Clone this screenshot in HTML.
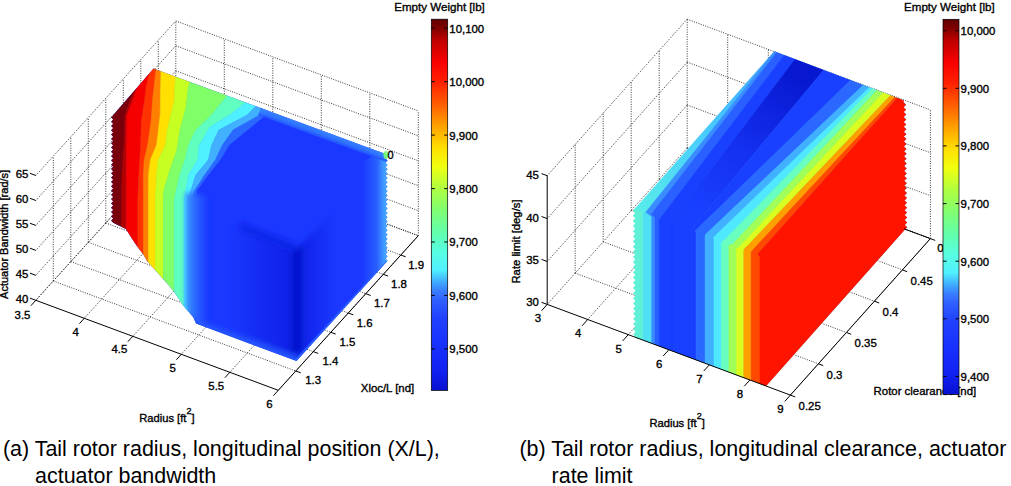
<!DOCTYPE html>
<html><head><meta charset="utf-8"><style>
html,body{margin:0;padding:0;background:#fff;width:1011px;height:486px;overflow:hidden;position:relative}
svg{position:absolute;left:0;top:0}
svg text{font-family:"Liberation Sans",sans-serif;fill:#000;stroke:#000;stroke-width:0.35px}
.g{stroke:#222;stroke-width:0.9;stroke-dasharray:1 1.4;fill:none}
.a{stroke:#000;stroke-width:1;fill:none}
.cap{position:absolute;font-family:"Liberation Sans",sans-serif;font-size:21.45px;line-height:26.5px;color:#000;white-space:nowrap}
.ind{padding-left:32.2px}
</style></head><body>
<svg width="1011" height="486" viewBox="0 0 1011 486">
<defs><filter id="b1" x="-10%" y="-10%" width="120%" height="120%"><feGaussianBlur stdDeviation="0.7"/></filter><filter id="b3" x="-20%" y="-20%" width="140%" height="140%"><feGaussianBlur stdDeviation="2.5"/></filter><linearGradient id="g1" gradientUnits="userSpaceOnUse" x1="185.0" y1="0.0" x2="208.0" y2="0.0"><stop offset="0.000" stop-color="#40a8ff"/><stop offset="0.350" stop-color="#2e70ff"/><stop offset="1.000" stop-color="#1a38ff"/></linearGradient><linearGradient id="g2" gradientUnits="userSpaceOnUse" x1="225.0" y1="0.0" x2="297.0" y2="0.0"><stop offset="0" stop-color="#0010c8" stop-opacity="0"/><stop offset="1" stop-color="#0010c8" stop-opacity="0.45"/></linearGradient><linearGradient id="g3" gradientUnits="userSpaceOnUse" x1="297.0" y1="0.0" x2="335.0" y2="0.0"><stop offset="0" stop-color="#0010c8" stop-opacity="0.45"/><stop offset="1" stop-color="#0010c8" stop-opacity="0"/></linearGradient><linearGradient id="g4" gradientUnits="userSpaceOnUse" x1="362.0" y1="0.0" x2="387.0" y2="0.0"><stop offset="0.000" stop-color="#1a38ff"/><stop offset="0.600" stop-color="#2a60ff"/><stop offset="0.820" stop-color="#3a90ff"/><stop offset="1.000" stop-color="#48b0ff"/></linearGradient><linearGradient id="g5" gradientUnits="userSpaceOnUse" x1="300.0" y1="122.0" x2="296.6" y2="131.4"><stop offset="0.000" stop-color="#3a8cff"/><stop offset="0.450" stop-color="#3078ff"/><stop offset="1.000" stop-color="#1a38ff"/></linearGradient><linearGradient id="g6" gradientUnits="userSpaceOnUse" x1="774.0" y1="51.0" x2="634.0" y2="208.0"><stop offset="0.000" stop-color="#40a0ff"/><stop offset="0.450" stop-color="#48c8ff"/><stop offset="1.000" stop-color="#58ecea"/></linearGradient><linearGradient id="g7" gradientUnits="userSpaceOnUse" x1="790.0" y1="70.0" x2="700.0" y2="215.0"><stop offset="0.000" stop-color="#0818d0"/><stop offset="0.550" stop-color="#1430f0"/><stop offset="1.000" stop-color="#1a40ff"/></linearGradient><linearGradient id="jetv" x1="0" y1="0" x2="0" y2="1"><stop offset="0.000" stop-color="#600000"/><stop offset="0.024" stop-color="#800000"/><stop offset="0.058" stop-color="#c00000"/><stop offset="0.114" stop-color="#f80000"/><stop offset="0.169" stop-color="#ff2000"/><stop offset="0.231" stop-color="#ff6000"/><stop offset="0.287" stop-color="#ffa000"/><stop offset="0.325" stop-color="#ffc800"/><stop offset="0.347" stop-color="#ffe000"/><stop offset="0.397" stop-color="#f0ff10"/><stop offset="0.455" stop-color="#b0ff40"/><stop offset="0.513" stop-color="#80ff70"/><stop offset="0.578" stop-color="#60ffb0"/><stop offset="0.625" stop-color="#58ffe0"/><stop offset="0.676" stop-color="#50f0ff"/><stop offset="0.705" stop-color="#40b0ff"/><stop offset="0.730" stop-color="#3880ff"/><stop offset="0.756" stop-color="#3060ff"/><stop offset="0.806" stop-color="#2040ff"/><stop offset="0.878" stop-color="#1830ff"/><stop offset="0.950" stop-color="#1020f0"/><stop offset="1.000" stop-color="#0810d0"/></linearGradient></defs>
<line x1="35.8" y1="300.3" x2="175.8" y2="145.7" class="g"/><line x1="84.3" y1="318.3" x2="224.3" y2="163.7" class="g"/><line x1="132.8" y1="336.3" x2="272.8" y2="181.7" class="g"/><line x1="181.3" y1="354.3" x2="321.3" y2="199.7" class="g"/><line x1="229.8" y1="372.3" x2="369.8" y2="217.7" class="g"/><line x1="278.3" y1="390.3" x2="418.3" y2="235.7" class="g"/><line x1="53.3" y1="281.0" x2="295.8" y2="371.0" class="g"/><line x1="70.8" y1="261.6" x2="313.3" y2="351.6" class="g"/><line x1="88.3" y1="242.3" x2="330.8" y2="332.3" class="g"/><line x1="105.8" y1="223.0" x2="348.3" y2="313.0" class="g"/><line x1="123.3" y1="203.7" x2="365.8" y2="293.7" class="g"/><line x1="140.8" y1="184.3" x2="383.3" y2="274.3" class="g"/><line x1="158.3" y1="165.0" x2="400.8" y2="255.0" class="g"/><line x1="175.8" y1="145.7" x2="418.3" y2="235.7" class="g"/><line x1="35.8" y1="300.3" x2="175.8" y2="145.7" class="g"/><line x1="35.8" y1="275.3" x2="175.8" y2="120.7" class="g"/><line x1="35.8" y1="250.4" x2="175.8" y2="95.7" class="g"/><line x1="35.8" y1="225.4" x2="175.8" y2="70.8" class="g"/><line x1="35.8" y1="200.5" x2="175.8" y2="45.8" class="g"/><line x1="35.8" y1="175.5" x2="175.8" y2="20.9" class="g"/><line x1="53.3" y1="281.0" x2="53.3" y2="156.2" class="g"/><line x1="70.8" y1="261.6" x2="70.8" y2="136.8" class="g"/><line x1="88.3" y1="242.3" x2="88.3" y2="117.5" class="g"/><line x1="105.8" y1="223.0" x2="105.8" y2="98.2" class="g"/><line x1="123.3" y1="203.7" x2="123.3" y2="78.9" class="g"/><line x1="140.8" y1="184.3" x2="140.8" y2="59.5" class="g"/><line x1="158.3" y1="165.0" x2="158.3" y2="40.2" class="g"/><line x1="175.8" y1="145.7" x2="175.8" y2="20.9" class="g"/><line x1="175.8" y1="145.7" x2="418.3" y2="235.7" class="g"/><line x1="175.8" y1="120.7" x2="418.3" y2="210.7" class="g"/><line x1="175.8" y1="95.7" x2="418.3" y2="185.7" class="g"/><line x1="175.8" y1="70.8" x2="418.3" y2="160.8" class="g"/><line x1="175.8" y1="45.8" x2="418.3" y2="135.8" class="g"/><line x1="175.8" y1="20.9" x2="418.3" y2="110.9" class="g"/><line x1="224.3" y1="163.7" x2="224.3" y2="38.9" class="g"/><line x1="272.8" y1="181.7" x2="272.8" y2="56.9" class="g"/><line x1="321.3" y1="199.7" x2="321.3" y2="74.9" class="g"/><line x1="369.8" y1="217.7" x2="369.8" y2="92.9" class="g"/><line x1="418.3" y1="235.7" x2="418.3" y2="110.9" class="g"/><clipPath id="cl"><polygon points="153.5,68.5 385.5,154.0 387.5,156.2 385.5,158.4 387.5,160.5 385.5,162.7 387.5,164.9 385.5,167.1 387.5,169.3 385.5,171.4 387.5,173.6 385.5,175.8 387.5,178.0 385.5,180.2 387.5,182.3 385.5,184.5 387.5,186.7 385.5,188.9 387.5,191.1 385.5,193.2 387.5,195.4 385.5,197.6 387.5,199.8 385.5,202.0 387.5,204.1 385.5,206.3 387.5,208.5 385.5,210.7 387.5,212.9 385.5,215.0 387.5,217.2 385.5,219.4 387.5,221.6 385.5,223.8 387.5,225.9 385.5,228.1 387.5,230.3 385.5,232.5 387.5,234.7 385.5,236.8 387.5,239.0 385.5,241.2 387.5,243.4 385.5,245.6 387.5,247.7 385.5,249.9 387.5,252.1 385.5,254.3 387.5,256.5 385.5,258.6 387.5,260.8 385.5,263.0 296.5,361.0 196.0,323.5 193.2,317.0 183.3,305.8 173.5,291.0 166.0,282.3 155.0,270.0 147.0,261.0 143.2,254.3 138.3,248.1 133.3,240.7 125.9,229.0 113.2,222.8 111.1,220.6 113.2,218.5 111.1,216.3 113.2,214.2 111.1,212.0 113.2,209.9 111.1,207.7 113.2,205.6 111.1,203.4 113.2,201.3 111.1,199.1 113.2,197.0 111.1,194.8 113.2,192.7 111.1,190.5 113.2,188.4 111.1,186.2 113.2,184.1 111.1,181.9 113.2,179.8 111.1,177.6 113.2,175.5 111.1,173.3 113.2,171.2 111.1,169.0 113.2,166.8 111.1,164.7 113.2,162.5 111.1,160.4 113.2,158.2 111.1,156.1 113.2,153.9 111.1,151.8 113.2,149.6 111.1,147.5 113.2,145.3 111.1,143.2 113.2,141.0 111.1,138.9 113.2,136.7 111.1,134.6 113.2,132.4 111.1,130.3 113.2,128.1 111.1,126.0 113.2,123.8 111.1,121.7 113.2,119.5 111.1,117.4 113.2,115.2"/></clipPath><g clip-path="url(#cl)"><rect x="100" y="60" width="300" height="310" fill="#1a38ff"/><g filter="url(#b1)"><polygon points="132.0,38.0 120.0,70.0 105.0,110.0 105.0,200.0 105.0,430.0 121.5,430.0 121.5,200.0 122.0,175.0 124.0,145.0 125.0,115.0 130.3,100.0 133.0,94.0 135.2,89.2" fill="#780008" stroke="#780008" stroke-width="0.6"/><polygon points="135.2,89.2 133.0,94.0 130.3,100.0 125.0,115.0 124.0,145.0 122.0,175.0 121.5,200.0 121.5,430.0 126.3,430.0 126.3,200.0 126.3,175.0 126.5,145.0 127.0,115.0 133.0,100.0 136.0,91.0 138.4,83.8" fill="#b00000" stroke="#b00000" stroke-width="0.6"/><polygon points="138.4,83.8 136.0,91.0 133.0,100.0 127.0,115.0 126.5,145.0 126.3,175.0 126.3,200.0 126.3,430.0 137.8,430.0 137.8,200.0 139.2,170.0 140.6,145.0 141.5,120.0 144.6,100.0 146.3,86.0 150.0,71.6 153.0,60.1" fill="#f40000" stroke="#f40000" stroke-width="0.6"/><polygon points="153.0,60.1 150.0,71.6 146.3,86.0 144.6,100.0 141.5,120.0 140.6,145.0 139.2,170.0 137.8,200.0 137.8,430.0 143.5,430.0 143.5,200.0 143.5,175.0 144.2,160.0 147.7,145.0 151.3,120.0 152.5,100.0 154.2,86.0 156.0,69.4 157.4,56.1" fill="#ff3000" stroke="#ff3000" stroke-width="0.6"/><polygon points="157.4,56.1 156.0,69.4 154.2,86.0 152.5,100.0 151.3,120.0 147.7,145.0 144.2,160.0 143.5,175.0 143.5,200.0 143.5,430.0 148.5,430.0 148.5,200.0 148.6,175.0 150.4,160.0 156.6,145.0 158.4,130.0 160.2,115.0 160.4,100.0 160.6,86.0 161.0,71.2 161.3,59.4" fill="#ff8000" stroke="#ff8000" stroke-width="0.6"/><polygon points="161.3,59.4 161.0,71.2 160.6,86.0 160.4,100.0 160.2,115.0 158.4,130.0 156.6,145.0 150.4,160.0 148.6,175.0 148.5,200.0 148.5,430.0 155.4,430.0 155.4,200.0 156.6,175.0 158.4,160.0 165.5,145.0 167.3,130.0 170.9,115.0 174.6,100.0 174.8,86.0 176.0,76.7 177.0,69.3" fill="#ffe000" stroke="#ffe000" stroke-width="0.6"/><polygon points="177.0,69.3 176.0,76.7 174.8,86.0 174.6,100.0 170.9,115.0 167.3,130.0 165.5,145.0 158.4,160.0 156.6,175.0 155.4,200.0 155.4,430.0 163.4,430.0 163.4,200.0 164.0,190.0 170.0,170.0 177.0,150.0 180.0,130.0 186.0,108.0 188.0,90.0 190.0,81.8 191.6,75.2" fill="#c8ff20" stroke="#c8ff20" stroke-width="0.6"/><polygon points="191.6,75.2 190.0,81.8 188.0,90.0 186.0,108.0 180.0,130.0 177.0,150.0 170.0,170.0 164.0,190.0 163.4,200.0 163.4,430.0 174.2,430.0 174.2,200.0 179.8,175.0 185.0,160.0 188.7,145.0 196.0,130.0 211.8,115.0 223.7,100.0 227.6,95.6 230.7,92.1" fill="#80ff68" stroke="#80ff68" stroke-width="0.6"/><polygon points="230.7,92.1 227.6,95.6 223.7,100.0 211.8,115.0 196.0,130.0 188.7,145.0 185.0,160.0 179.8,175.0 174.2,200.0 174.2,430.0 184.1,430.0 184.1,200.0 188.7,175.0 197.6,160.0 199.4,145.0 210.0,127.0 229.6,115.0 246.0,102.2 259.1,92.0" fill="#60ffc0" stroke="#60ffc0" stroke-width="0.6"/><polygon points="259.1,92.0 246.0,102.2 229.6,115.0 210.0,127.0 199.4,145.0 197.6,160.0 188.7,175.0 184.1,200.0 184.1,430.0 188.0,430.0 188.0,200.0 195.8,175.0 208.3,160.0 211.8,145.0 218.9,130.0 247.4,115.0 256.0,106.0 262.9,98.8" fill="#50f0ff" stroke="#50f0ff" stroke-width="0.6"/><polygon points="262.9,98.8 256.0,106.0 247.4,115.0 218.9,130.0 211.8,145.0 208.3,160.0 195.8,175.0 188.0,200.0 188.0,430.0 191.0,430.0 191.0,200.0 195.0,190.0 204.7,175.0 215.4,160.0 222.5,145.0 233.2,130.0 259.9,115.0 261.0,107.8 261.9,102.0" fill="#40b0ff" stroke="#40b0ff" stroke-width="0.6"/><polygon points="261.9,102.0 261.0,107.8 259.9,115.0 233.2,130.0 222.5,145.0 215.4,160.0 204.7,175.0 195.0,190.0 191.0,200.0 191.0,430.0 194.0,430.0 194.0,200.0 197.0,190.0 208.0,175.0 220.0,160.0 229.0,145.0 247.4,130.0 262.0,118.0 268.0,110.3 272.8,104.1" fill="#2c68ff" stroke="#2c68ff" stroke-width="0.6"/></g><g filter="url(#b3)"><polygon points="185.0,192.0 208.0,196.0 208.0,334.0 196.0,323.5 185.0,308.0" fill="url(#g1)" /><polygon points="225.0,222.0 297.0,249.0 297.0,361.0 225.0,335.0" fill="url(#g2)" /><polygon points="297.0,249.0 335.0,210.0 335.0,320.0 297.0,361.0" fill="url(#g3)" /><polygon points="240.0,222.0 297.0,244.0 297.0,252.0 240.0,230.0" fill="#0a1cd8" opacity="0.5"/><polygon points="291.0,254.0 297.0,250.0 303.0,244.0 303.0,352.0 291.0,352.0" fill="#0814c8" opacity="0.8"/><polygon points="194.0,319.0 297.0,357.0 297.0,366.0 194.0,328.0" fill="#2858ff" /></g><polygon points="360.0,165.0 392.0,140.0 392.0,270.0 360.0,300.0" fill="url(#g4)" /><polygon points="262,106 392,154 392,164 258,115" fill="url(#g5)" opacity="0.9"/><polygon points="297.0,362.0 388.0,263.0 385.8,261.0 294.8,359.6" fill="#2e68ff" opacity="0.8"/></g>
<line x1="35.8" y1="300.3" x2="278.3" y2="390.3" class="a"/><line x1="278.3" y1="390.3" x2="418.3" y2="235.7" class="a"/><line x1="35.8" y1="300.3" x2="30.9" y2="305.7" class="a"/><line x1="84.3" y1="318.3" x2="79.4" y2="323.7" class="a"/><line x1="132.8" y1="336.3" x2="127.9" y2="341.7" class="a"/><line x1="181.3" y1="354.3" x2="176.4" y2="359.7" class="a"/><line x1="229.8" y1="372.3" x2="224.9" y2="377.7" class="a"/><line x1="278.3" y1="390.3" x2="273.4" y2="395.7" class="a"/><line x1="295.8" y1="371.0" x2="300.7" y2="372.8" class="a"/><line x1="313.3" y1="351.6" x2="318.2" y2="353.4" class="a"/><line x1="330.8" y1="332.3" x2="335.7" y2="334.1" class="a"/><line x1="348.3" y1="313.0" x2="353.2" y2="314.8" class="a"/><line x1="365.8" y1="293.7" x2="370.7" y2="295.5" class="a"/><line x1="383.3" y1="274.3" x2="388.2" y2="276.1" class="a"/><line x1="400.8" y1="255.0" x2="405.7" y2="256.8" class="a"/><line x1="35.8" y1="300.3" x2="30.0" y2="298.1" class="a"/><line x1="35.8" y1="275.3" x2="30.0" y2="273.2" class="a"/><line x1="35.8" y1="250.4" x2="30.0" y2="248.2" class="a"/><line x1="35.8" y1="225.4" x2="30.0" y2="223.3" class="a"/><line x1="35.8" y1="200.5" x2="30.0" y2="198.3" class="a"/><line x1="35.8" y1="175.5" x2="30.0" y2="173.3" class="a"/><text x="28.3" y="302.6" font-size="11.4" text-anchor="end" >40</text><text x="28.3" y="277.6" font-size="11.4" text-anchor="end" >45</text><text x="28.3" y="252.7" font-size="11.4" text-anchor="end" >50</text><text x="28.3" y="227.7" font-size="11.4" text-anchor="end" >55</text><text x="28.3" y="202.8" font-size="11.4" text-anchor="end" >60</text><text x="28.3" y="177.8" font-size="11.4" text-anchor="end" >65</text><text x="30.4" y="319.3" font-size="11.4" text-anchor="end" >3.5</text><text x="78.9" y="336.4" font-size="11.4" text-anchor="end" >4</text><text x="127.3" y="353.4" font-size="11.4" text-anchor="end" >4.5</text><text x="175.8" y="371.5" font-size="11.4" text-anchor="end" >5</text><text x="224.2" y="389.7" font-size="11.4" text-anchor="end" >5.5</text><text x="272.7" y="407.5" font-size="11.4" text-anchor="end" >6</text><text x="305.2" y="384.4" font-size="11.4" text-anchor="start" >1.3</text><text x="322.4" y="365.1" font-size="11.4" text-anchor="start" >1.4</text><text x="339.5" y="345.8" font-size="11.4" text-anchor="start" >1.5</text><text x="356.7" y="326.6" font-size="11.4" text-anchor="start" >1.6</text><text x="373.9" y="307.3" font-size="11.4" text-anchor="start" >1.7</text><text x="391.1" y="288.0" font-size="11.4" text-anchor="start" >1.8</text><text x="408.2" y="268.7" font-size="11.4" text-anchor="start" >1.9</text><text x="139.2" y="422.4" font-size="11.2" text-anchor="start" >Radius [ft<tspan font-size="9" dy="-8.2">2</tspan><tspan dy="8.2">]</tspan></text><text x="360.8" y="391.8" font-size="11.4" text-anchor="start" >Xloc/L [nd]</text><text transform="translate(8.3,234.4) rotate(-90)" font-size="11" text-anchor="middle">Actuator Bandwidth [rad/s]</text><ellipse cx="386" cy="155" rx="2.6" ry="4" fill="#7f7" opacity="0.9"/><text x="390.5" y="159.0" font-size="11" text-anchor="middle" >0</text>
<line x1="587.7" y1="319.5" x2="727.7" y2="163.0" class="g"/><line x1="628.3" y1="334.6" x2="768.3" y2="178.1" class="g"/><line x1="668.8" y1="349.8" x2="808.8" y2="193.3" class="g"/><line x1="709.3" y1="364.9" x2="849.3" y2="208.4" class="g"/><line x1="749.9" y1="380.0" x2="889.9" y2="223.5" class="g"/><line x1="790.4" y1="395.1" x2="930.4" y2="238.6" class="g"/><line x1="575.2" y1="273.1" x2="818.4" y2="363.8" class="g"/><line x1="603.2" y1="241.8" x2="846.4" y2="332.5" class="g"/><line x1="631.2" y1="210.5" x2="874.4" y2="301.2" class="g"/><line x1="659.2" y1="179.2" x2="902.4" y2="269.9" class="g"/><line x1="687.2" y1="147.9" x2="930.4" y2="238.6" class="g"/><line x1="547.2" y1="304.4" x2="687.2" y2="147.9" class="g"/><line x1="547.2" y1="261.5" x2="687.2" y2="105.0" class="g"/><line x1="547.2" y1="218.6" x2="687.2" y2="62.1" class="g"/><line x1="547.2" y1="175.7" x2="687.2" y2="19.2" class="g"/><line x1="575.2" y1="273.1" x2="575.2" y2="144.4" class="g"/><line x1="603.2" y1="241.8" x2="603.2" y2="113.1" class="g"/><line x1="631.2" y1="210.5" x2="631.2" y2="81.8" class="g"/><line x1="659.2" y1="179.2" x2="659.2" y2="50.5" class="g"/><line x1="687.2" y1="147.9" x2="687.2" y2="19.2" class="g"/><line x1="687.2" y1="147.9" x2="930.4" y2="238.6" class="g"/><line x1="687.2" y1="105.0" x2="930.4" y2="195.7" class="g"/><line x1="687.2" y1="62.1" x2="930.4" y2="152.8" class="g"/><line x1="687.2" y1="19.2" x2="930.4" y2="109.9" class="g"/><line x1="727.7" y1="163.0" x2="727.7" y2="34.3" class="g"/><line x1="768.3" y1="178.1" x2="768.3" y2="49.4" class="g"/><line x1="808.8" y1="193.3" x2="808.8" y2="64.6" class="g"/><line x1="849.3" y1="208.4" x2="849.3" y2="79.7" class="g"/><line x1="889.9" y1="223.5" x2="889.9" y2="94.8" class="g"/><line x1="930.4" y1="238.6" x2="930.4" y2="109.9" class="g"/><clipPath id="cr"><polygon points="774.2,51.3 903.6,100.3 903.6,102.3 906.1,104.8 903.6,107.2 906.2,109.7 903.7,112.1 906.2,114.6 903.7,117.0 906.3,119.5 903.8,121.9 906.3,124.4 903.8,126.8 906.4,129.3 903.9,131.7 906.4,134.2 903.9,136.6 906.4,139.1 904.0,141.5 906.5,144.0 904.0,146.4 906.5,148.9 904.1,151.3 906.6,153.8 904.1,156.2 906.6,158.7 904.2,161.1 906.7,163.6 904.2,166.1 906.7,168.5 904.2,171.0 906.8,173.4 904.3,175.9 906.8,178.3 904.3,180.8 906.9,183.2 904.4,185.7 906.9,188.1 904.4,190.6 907.0,193.0 904.5,195.5 907.0,197.9 904.5,200.4 907.0,202.8 904.6,205.3 907.1,207.7 904.6,210.2 907.1,212.6 904.7,215.1 907.2,217.5 904.7,220.0 907.2,222.4 904.8,224.9 907.3,227.3 904.8,229.8 766.2,386.0 634.6,336.9 635.8,336.9 633.4,334.3 635.8,331.7 633.4,329.2 635.8,326.6 633.4,324.0 635.8,321.4 633.3,318.9 635.7,316.3 633.3,313.7 635.7,311.1 633.3,308.5 635.7,306.0 633.3,303.4 635.7,300.8 633.3,298.2 635.7,295.7 633.3,293.1 635.7,290.5 633.2,287.9 635.6,285.3 633.2,282.8 635.6,280.2 633.2,277.6 635.6,275.0 633.2,272.4 635.6,269.9 633.2,267.3 635.6,264.7 633.2,262.1 635.6,259.6 633.2,257.0 635.5,254.4 633.1,251.8 635.5,249.2 633.1,246.7 635.5,244.1 633.1,241.5 635.5,238.9 633.1,236.4 635.5,233.8 633.1,231.2 635.5,228.6 633.1,226.0 635.4,223.5 633.0,220.9 635.4,218.3 633.0,215.7 635.4,213.2 633.0,210.6 635.4,208.0"/></clipPath><g clip-path="url(#cr)"><polygon points="600.0,0.0 950.0,0.0 950.0,420.0 600.0,420.0" fill="url(#g6)" /><polygon points="600.0,195.2 643.0,211.3 643.0,420.0 600.0,420.0" fill="#60f0d8" /><polygon points="643.0,211.8 651.7,214.5 651.7,420.0 643.0,420.0" fill="#50e0f4" /><polygon points="792.0,30.0 768.0,60.0 645.7,212.3 651.7,216.5 651.7,420.0 655.0,420.0 655.0,217.8 651.2,214.3 771.0,60.0 794.3,30.0" fill="#3a8cff" stroke="#3a8cff" stroke-width="0.5"/><polygon points="794.3,30.0 771.0,60.0 651.2,214.3 655.0,217.8 655.0,420.0 659.1,420.0 659.1,219.3 660.5,217.8 780.6,60.0 803.5,30.0" fill="#2a60ff" stroke="#2a60ff" stroke-width="0.5"/><polygon points="803.5,30.0 780.6,60.0 660.5,217.8 659.1,219.3 659.1,420.0 672.0,420.0 672.0,224.1 671.5,221.9 794.2,60.0 816.9,30.0" fill="#1a40ff" stroke="#1a40ff" stroke-width="0.5"/><polygon points="816.9,30.0 794.2,60.0 671.5,221.9 672.0,224.1 672.0,420.0 690.0,420.0 690.0,230.8 691.0,229.2 832.2,60.0 857.3,30.0" fill="url(#g7)" stroke="#1430f0" stroke-width="0.5"/><polygon points="857.3,30.0 832.2,60.0 691.0,229.2 690.0,230.8 690.0,420.0 696.2,420.0 696.2,233.1 695.4,230.8 871.3,60.0 902.2,30.0" fill="#1a40ff" stroke="#1a40ff" stroke-width="0.5"/><polygon points="902.2,30.0 871.3,60.0 695.4,230.8 696.2,233.1 696.2,420.0 705.1,420.0 705.1,236.5 705.4,234.6 889.7,60.0 921.4,30.0" fill="#2a68ff" stroke="#2a68ff" stroke-width="0.5"/><polygon points="921.4,30.0 889.7,60.0 705.4,234.6 705.1,236.5 705.1,420.0 714.0,420.0 714.0,239.8 713.3,237.5 897.7,60.0 928.8,30.0" fill="#40b0ff" stroke="#40b0ff" stroke-width="0.5"/><polygon points="928.8,30.0 897.7,60.0 713.3,237.5 714.0,239.8 714.0,420.0 721.4,420.0 721.4,242.5 723.2,241.2 724.4,240.0 900.1,60.0 929.4,30.0" fill="#50e8ff" stroke="#50e8ff" stroke-width="0.5"/><polygon points="929.4,30.0 900.1,60.0 724.4,240.0 723.2,241.2 721.4,242.5 721.4,420.0 728.9,420.0 728.9,245.3 732.3,244.6 736.5,240.0 905.3,60.0 933.4,30.0" fill="#68ffc0" stroke="#68ffc0" stroke-width="0.5"/><polygon points="933.4,30.0 905.3,60.0 736.5,240.0 732.3,244.6 728.9,245.3 728.9,420.0 736.3,420.0 736.3,248.1 739.0,247.1 745.7,240.0 913.7,60.0 941.7,30.0" fill="#a0ff58" stroke="#a0ff58" stroke-width="0.5"/><polygon points="941.7,30.0 913.7,60.0 745.7,240.0 739.0,247.1 736.3,248.1 736.3,420.0 743.7,420.0 743.7,250.9 744.3,249.1 753.0,240.0 924.1,60.0 952.6,30.0" fill="#d8ff20" stroke="#d8ff20" stroke-width="0.5"/><polygon points="952.6,30.0 924.1,60.0 753.0,240.0 744.3,249.1 743.7,250.9 743.7,420.0 751.1,420.0 751.1,253.6 751.2,251.7 762.0,240.0 929.5,60.0 957.5,30.0" fill="#ffa000" stroke="#ffa000" stroke-width="0.5"/><polygon points="957.5,30.0 929.5,60.0 762.0,240.0 751.2,251.7 751.1,253.6 751.1,420.0 760.0,420.0 760.0,256.9 757.7,254.1 770.3,240.0 931.4,60.0 958.2,30.0" fill="#ff4800" stroke="#ff4800" stroke-width="0.5"/><polygon points="958.2,30.0 931.4,60.0 770.3,240.0 757.7,254.1 760.0,256.9 760.0,420.0 960.0,420.0 960.0,0.0" fill="#ff1400" stroke="#ff1400" stroke-width="0.5"/></g>
<line x1="547.2" y1="304.4" x2="790.4" y2="395.1" class="a"/><line x1="790.4" y1="395.1" x2="930.4" y2="238.6" class="a"/><line x1="547.2" y1="304.4" x2="547.2" y2="175.7" class="a"/><line x1="904.0" y1="228.8" x2="930.4" y2="238.6" class="a"/><line x1="547.2" y1="304.4" x2="541.6" y2="310.7" class="a"/><line x1="587.7" y1="319.5" x2="582.1" y2="325.8" class="a"/><line x1="628.3" y1="334.6" x2="622.7" y2="340.9" class="a"/><line x1="668.8" y1="349.8" x2="663.2" y2="356.0" class="a"/><line x1="709.3" y1="364.9" x2="703.7" y2="371.1" class="a"/><line x1="749.9" y1="380.0" x2="744.2" y2="386.3" class="a"/><line x1="790.4" y1="395.1" x2="784.8" y2="401.4" class="a"/><line x1="790.4" y1="395.1" x2="795.2" y2="396.9" class="a"/><line x1="818.4" y1="363.8" x2="823.2" y2="365.6" class="a"/><line x1="846.4" y1="332.5" x2="851.2" y2="334.3" class="a"/><line x1="874.4" y1="301.2" x2="879.2" y2="303.0" class="a"/><line x1="902.4" y1="269.9" x2="907.2" y2="271.7" class="a"/><line x1="930.4" y1="238.6" x2="935.2" y2="240.4" class="a"/><line x1="547.2" y1="304.4" x2="541.5" y2="302.3" class="a"/><line x1="547.2" y1="261.5" x2="541.5" y2="259.4" class="a"/><line x1="547.2" y1="218.6" x2="541.5" y2="216.5" class="a"/><line x1="547.2" y1="175.7" x2="541.5" y2="173.6" class="a"/><text x="538.9" y="306.1" font-size="11.4" text-anchor="end" >30</text><text x="538.9" y="263.8" font-size="11.4" text-anchor="end" >35</text><text x="538.9" y="221.7" font-size="11.4" text-anchor="end" >40</text><text x="538.9" y="179.3" font-size="11.4" text-anchor="end" >45</text><text x="541.0" y="322.4" font-size="11.4" text-anchor="end" >3</text><text x="581.4" y="337.4" font-size="11.4" text-anchor="end" >4</text><text x="621.8" y="352.5" font-size="11.4" text-anchor="end" >5</text><text x="662.3" y="367.5" font-size="11.4" text-anchor="end" >6</text><text x="702.7" y="382.5" font-size="11.4" text-anchor="end" >7</text><text x="743.1" y="397.5" font-size="11.4" text-anchor="end" >8</text><text x="783.5" y="412.6" font-size="11.4" text-anchor="end" >9</text><text x="798.6" y="409.9" font-size="11.4" text-anchor="start" >0.25</text><text x="826.6" y="378.6" font-size="11.4" text-anchor="start" >0.3</text><text x="854.6" y="347.3" font-size="11.4" text-anchor="start" >0.35</text><text x="882.6" y="316.0" font-size="11.4" text-anchor="start" >0.4</text><text x="910.6" y="284.7" font-size="11.4" text-anchor="start" >0.45</text><text x="940.4" y="252.3" font-size="11.4" text-anchor="middle" >0</text><text x="649.4" y="426.8" font-size="11.2" text-anchor="start" >Radius [ft<tspan font-size="9" dy="-8.2">2</tspan><tspan dy="8.2">]</tspan></text><text x="873.6" y="394.6" font-size="11.4" text-anchor="start" >Rotor clearance [nd]</text><text transform="translate(519.8,241.5) rotate(-90)" font-size="11.3" text-anchor="middle">Rate limit [deg/s]</text>
<rect x="431.3" y="19.2" width="16.4" height="371.2" fill="url(#jetv)" stroke="#000" stroke-width="0.7"/><line x1="431.3" y1="28.2" x2="434.8" y2="28.2" class="a"/><line x1="444.2" y1="28.2" x2="447.7" y2="28.2" class="a"/><text x="449.3" y="32.6" font-size="11.4" text-anchor="start" >10,100</text><line x1="431.3" y1="81.7" x2="434.8" y2="81.7" class="a"/><line x1="444.2" y1="81.7" x2="447.7" y2="81.7" class="a"/><text x="449.3" y="86.1" font-size="11.4" text-anchor="start" >10,000</text><line x1="431.3" y1="135.1" x2="434.8" y2="135.1" class="a"/><line x1="444.2" y1="135.1" x2="447.7" y2="135.1" class="a"/><text x="449.3" y="139.5" font-size="11.4" text-anchor="start" >9,900</text><line x1="431.3" y1="188.6" x2="434.8" y2="188.6" class="a"/><line x1="444.2" y1="188.6" x2="447.7" y2="188.6" class="a"/><text x="449.3" y="193.0" font-size="11.4" text-anchor="start" >9,800</text><line x1="431.3" y1="242.0" x2="434.8" y2="242.0" class="a"/><line x1="444.2" y1="242.0" x2="447.7" y2="242.0" class="a"/><text x="449.3" y="246.4" font-size="11.4" text-anchor="start" >9,700</text><line x1="431.3" y1="295.4" x2="434.8" y2="295.4" class="a"/><line x1="444.2" y1="295.4" x2="447.7" y2="295.4" class="a"/><text x="449.3" y="299.8" font-size="11.4" text-anchor="start" >9,600</text><line x1="431.3" y1="348.9" x2="434.8" y2="348.9" class="a"/><line x1="444.2" y1="348.9" x2="447.7" y2="348.9" class="a"/><text x="449.3" y="353.3" font-size="11.4" text-anchor="start" >9,500</text><text x="394.2" y="11.2" font-size="11.6" text-anchor="start" >Empty Weight [lb]</text><rect x="943.0" y="19.3" width="16.0" height="375.2" fill="url(#jetv)" stroke="#000" stroke-width="0.7"/><line x1="943.0" y1="30.7" x2="946.5" y2="30.7" class="a"/><line x1="955.5" y1="30.7" x2="959.0" y2="30.7" class="a"/><text x="960.6" y="35.1" font-size="11.4" text-anchor="start" >10,000</text><line x1="943.0" y1="88.3" x2="946.5" y2="88.3" class="a"/><line x1="955.5" y1="88.3" x2="959.0" y2="88.3" class="a"/><text x="960.6" y="92.7" font-size="11.4" text-anchor="start" >9,900</text><line x1="943.0" y1="145.9" x2="946.5" y2="145.9" class="a"/><line x1="955.5" y1="145.9" x2="959.0" y2="145.9" class="a"/><text x="960.6" y="150.3" font-size="11.4" text-anchor="start" >9,800</text><line x1="943.0" y1="203.6" x2="946.5" y2="203.6" class="a"/><line x1="955.5" y1="203.6" x2="959.0" y2="203.6" class="a"/><text x="960.6" y="208.0" font-size="11.4" text-anchor="start" >9,700</text><line x1="943.0" y1="261.2" x2="946.5" y2="261.2" class="a"/><line x1="955.5" y1="261.2" x2="959.0" y2="261.2" class="a"/><text x="960.6" y="265.6" font-size="11.4" text-anchor="start" >9,600</text><line x1="943.0" y1="318.8" x2="946.5" y2="318.8" class="a"/><line x1="955.5" y1="318.8" x2="959.0" y2="318.8" class="a"/><text x="960.6" y="323.2" font-size="11.4" text-anchor="start" >9,500</text><line x1="943.0" y1="376.4" x2="946.5" y2="376.4" class="a"/><line x1="955.5" y1="376.4" x2="959.0" y2="376.4" class="a"/><text x="960.6" y="380.8" font-size="11.4" text-anchor="start" >9,400</text><text x="904.0" y="11.2" font-size="11.6" text-anchor="start" >Empty Weight [lb]</text>
</svg>
<div class="cap" style="left:2.9px;top:436.3px">(a) Tail rotor radius, longitudinal position (X/L),<br><span class="ind">actuator bandwidth</span></div>
<div class="cap" style="left:519.4px;top:436.3px">(b) Tail rotor radius, longitudinal clearance, actuator<br><span class="ind">rate limit</span></div>
</body></html>
